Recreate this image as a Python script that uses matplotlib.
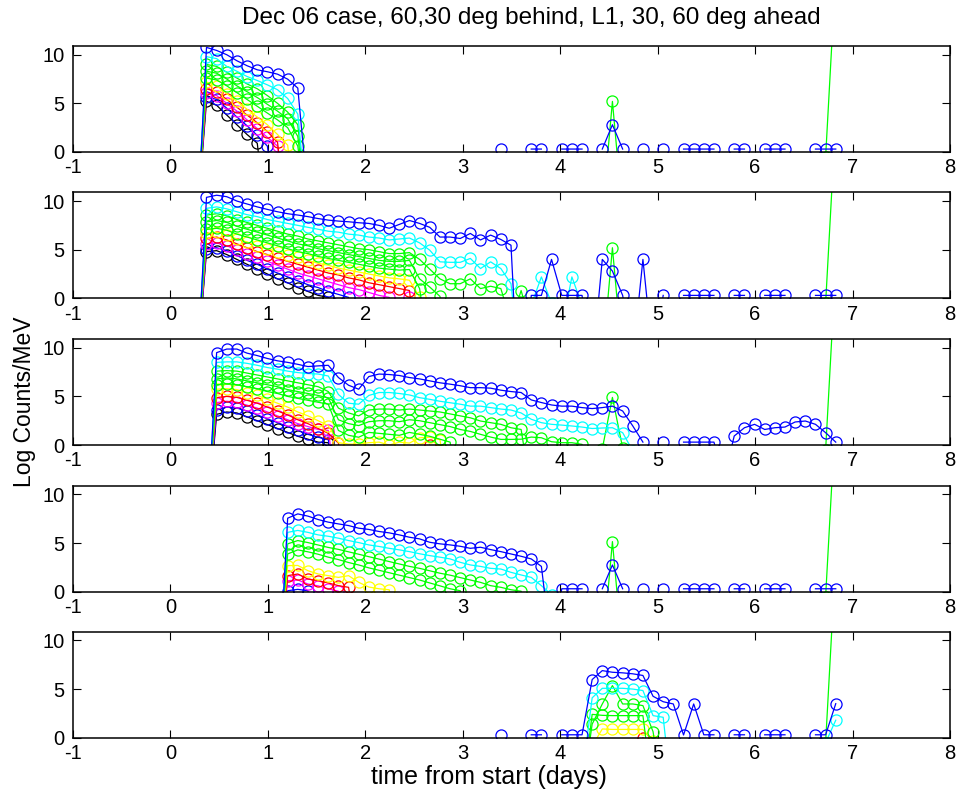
import numpy as np
import matplotlib
matplotlib.use("Agg")
import matplotlib.pyplot as plt

plt.rcParams['font.family'] = ['Liberation Sans', 'DejaVu Sans']
plt.rcParams['axes.unicode_minus'] = False

# sample times (days from start), 2.5 h cadence
time_days = [0.266, 0.370, 0.474, 0.578, 0.682, 0.786, 0.891, 0.995,
             1.099, 1.203, 1.307, 1.411, 1.516, 1.620, 1.724, 1.828,
             1.932, 2.036, 2.141, 2.245, 2.349, 2.453, 2.557, 2.661,
             2.766, 2.870, 2.974, 3.078, 3.182, 3.286, 3.391, 3.495,
             3.599, 3.703, 3.807, 3.911, 4.016, 4.120, 4.224, 4.328,
             4.432, 4.536, 4.641, 4.745, 4.849, 4.953, 5.057, 5.161,
             5.266, 5.370, 5.474, 5.578, 5.682, 5.786, 5.891, 5.995,
             6.099, 6.203, 6.307, 6.411, 6.516, 6.620, 6.724, 6.828]

# each channel: list of (first sample index, log counts) runs; gaps = no counts
# --- 60 deg behind ---
p1_blue = [(0, [-9.7, 10.75, 10.44, 10.0, 9.38, 8.87, 8.45, 8.25, 8.0, 7.49, 6.57, -4.6]),
           (30, [0.3]), (33, [0.3, 0.3]), (36, [0.3, 0.3, 0.3]),
           (40, [0.3, 2.8, 0.3]), (44, [0.3]), (46, [0.3]),
           (48, [0.3, 0.3, 0.3, 0.3]), (53, [0.3, 0.3]),
           (56, [0.3, 0.3, 0.3]), (61, [0.3, 0.3, 0.3])]
p1_cyan = [(0, [-8.5, 9.8, 9.6, 8.8, 8.3, 7.76, 7.35, 6.9, 6.4, 5.5, 3.9, -7.0])]
p1_green1 = [(0, [-8.0, 9.0, 8.8, 8.2, 7.6, 7.0, 6.5, 5.8, 5.0, 4.1, 2.8, -7.0]),
             (40, [-6.5, 5.2, -6.5]), (62, [-0.5, 18.5])]
p1_green2 = [(0, [-8.0, 8.3, 8.1, 7.5, 6.8, 6.2, 5.6, 4.9, 4.2, 3.4, 1.6, -7.0])]
p1_green3 = [(0, [-8.0, 7.6, 7.4, 6.8, 6.1, 5.4, 4.7, 4.0, 3.3, 2.5, 0.6, -7.0])]
p1_yellow = [(0, [-8.0, 7.2, 6.8, 6.0, 5.2, 4.4, 3.6, 2.8, 1.8, 0.7, -8.0])]
p1_red = [(0, [-8.0, 6.5, 6.2, 5.4, 4.6, 3.8, 3.0, 2.1, 1.0, -8.0])]
p1_magenta = [(0, [-8.0, 6.1, 5.8, 5.0, 4.2, 3.3, 2.4, 1.5, 0.6, -8.0])]
p1_blue2 = [(0, [-8.0, 5.7, 5.4, 4.5, 3.6, 2.7, 1.7, 0.6, -8.0])]
p1_black = [(0, [-8.0, 5.2, 4.8, 3.8, 2.8, 1.8, 0.9, -8.0])]

# --- 30 deg behind ---
p2_blue = [(0, [-9.5, 10.38, 10.6, 10.45, 10.0, 9.7, 9.4, 9.14, 8.9, 8.7, 8.56,
                8.4, 8.2, 8.04, 7.94, 7.87, 7.77, 7.7, 7.5, 7.2, 7.6,
                8.0, 7.7, 7.3, 6.3, 6.3, 6.15, 6.67, 6.0, 6.5, 6.05,
                5.46, -14.8, 0.3, 0.3, 4.0, 0.3, 0.3, 0.3, -7.2, 4.0,
                2.8, 0.3, -6.2, 4.0, -6.2, 0.3]),
           (48, [0.3, 0.3, 0.3, 0.3]), (53, [0.3, 0.3]),
           (56, [0.3, 0.3, 0.3]), (61, [0.3, 0.3, 0.3])]
p2_cyan = [(0, [-8.5, 9.25, 9.4, 9.2, 8.9, 8.6, 8.4, 8.1, 7.9, 7.7, 7.5,
                7.3, 7.1, 6.9, 6.8, 6.6, 6.5, 6.3, 6.2, 6.0, 6.1,
                6.2, 5.7, 4.95, 3.75, 3.7, 3.7, 4.1, 3.06, 3.75, 3.06,
                1.5, -8.0, -0.7, 2.2, -0.5, -3.1, 2.2, -0.7])]
p2_green1 = [(0, [-8.0, 8.56, 8.7, 8.5, 8.1, 7.8, 7.5, 7.2, 6.9, 6.6, 6.4,
                  6.1, 5.9, 5.7, 5.5, 5.3, 5.1, 5.0, 4.8, 4.6, 4.6,
                  4.7, 4.0, 3.0, 2.0, 1.5, 1.5, 2.0, 1.0, 1.24, 1.0,
                  -2.5, 0.8, -3.0]),
             (40, [-6.5, 5.2, -6.5]), (62, [-0.5, 18.5])]
p2_green2 = [(0, [-8.0, 7.87, 8.0, 7.8, 7.4, 7.1, 6.8, 6.5, 6.2, 5.9, 5.6,
                  5.4, 5.1, 4.9, 4.7, 4.5, 4.3, 4.1, 3.9, 3.8, 3.8,
                  3.9, 2.0, 1.16, 0.2, -6.0])]
p2_green3 = [(0, [-8.0, 7.08, 7.2, 7.0, 6.6, 6.3, 6.0, 5.7, 5.4, 5.1, 4.8,
                  4.6, 4.3, 4.1, 3.9, 3.7, 3.5, 3.3, 3.1, 3.0, 2.9,
                  2.96, 1.0, -6.0])]
p2_yellow = [(0, [-8.0, 6.67, 6.8, 6.5, 6.1, 5.8, 5.4, 5.1, 4.8, 4.5, 4.2,
                  3.9, 3.6, 3.4, 3.1, 2.9, 2.7, 2.5, 2.3, 2.1, 2.0,
                  1.86, 0.14, -8.0])]
p2_red = [(0, [-8.0, 6.15, 6.3, 6.0, 5.6, 5.2, 4.8, 4.5, 4.1, 3.8, 3.5,
               3.2, 2.9, 2.6, 2.4, 2.1, 1.9, 1.6, 1.4, 1.2, 1.0,
               0.8, -8.0])]
p2_magenta = [(0, [-8.0, 5.6, 5.7, 5.4, 5.0, 4.6, 4.2, 3.8, 3.4, 3.0, 2.6,
                   2.3, 2.0, 1.7, 1.4, 1.1, 0.9, 0.6, 0.3, 0.1, -3.0,
                   0.1, -8.0])]
p2_blue2 = [(0, [-8.0, 5.1, 5.2, 4.9, 4.4, 3.9, 3.5, 3.0, 2.6, 2.2, 1.8,
                 1.4, 1.1, 0.7, 0.4, 0.1, -8.0])]
p2_black = [(0, [-8.0, 4.8, 4.9, 4.5, 4.0, 3.5, 3.0, 2.5, 2.0, 1.6, 1.1,
                 0.7, 0.3, 0.1, -8.0])]

# --- L1 ---
p3_blue = [(1, [-10.0, 9.5, 9.87, 9.87, 9.45, 9.2, 8.9, 8.66, 8.5, 8.3,
                8.07, 8.14, 8.2, 6.94, 6.15, 5.74, 7.04, 7.3, 7.25, 7.15,
                6.94, 6.8, 6.6, 6.4, 6.26, 6.1, 5.9, 5.9, 5.85, 5.64,
                5.5, 5.4, 4.64, 4.37, 4.12, 4.0, 4.0, 3.85, 3.75, 3.85,
                4.0, 3.5, 1.96, 0.3]),
           (46, [0.3]),
           (48, [0.3, 0.3, 0.3, 0.3, -3.4, 0.93, 1.78, 2.13, 1.6, 1.78,
                 1.85, 2.37, 2.47, 2.13, 1.27, 0.3])]
p3_cyan = [(1, [-9.0, 8.5, 8.55, 8.55, 8.4, 8.2, 7.97, 7.8, 7.6, 7.45,
                7.35, 7.3, 7.1, 5.2, 4.3, 4.2, 5.1, 5.4, 5.4, 5.3,
                5.15, 4.87, 4.7, 4.5, 4.35, 4.2, 4.0, 4.0, 3.85, 3.7,
                3.6, 3.3, 2.65, 2.3, 2.13, 2.05, 1.96, 1.85, 1.7, 1.75,
                1.78, 1.27, -0.6])]
p3_green1 = [(1, [-9.0, 7.6, 7.65, 7.6, 7.4, 7.2, 7.0, 6.8, 6.6, 6.4,
                  6.2, 6.0, 5.5, 3.8, 3.3, 3.0, 3.6, 3.7, 3.7, 3.6,
                  3.7, 3.6, 3.5, 3.4, 3.2, 3.0, 2.8, 2.47, 2.3, 2.13,
                  1.78, 1.6, -5.0]),
             (40, [-0.4, 4.9, -0.3]), (62, [-0.5, 18.5])]
p3_green2 = [(1, [-9.0, 6.8, 6.9, 6.8, 6.6, 6.4, 6.2, 6.0, 5.7, 5.5,
                  5.3, 5.1, 4.85, 2.6, 2.2, 2.0, 2.4, 2.5, 2.5, 2.4,
                  2.6, 2.5, 2.3, 2.1, 1.9, 1.6, 1.4, 1.1, 0.82, 0.58,
                  0.58, 0.6, 0.82, 0.75, 0.34, 0.24, 0.24, 0.07, -6.0])]
p3_green3 = [(1, [-9.0, 6.2, 6.3, 6.2, 6.0, 5.8, 5.5, 5.3, 5.0, 4.8,
                  4.6, 4.4, 4.2, 1.5, 1.0, 0.8, 1.3, 1.2, 1.1, 1.0,
                  1.3, 1.1, 0.9, 0.6, 0.3, -6.0])]
p3_yellow = [(1, [-9.0, 5.74, 5.8, 5.7, 5.4, 5.1, 4.7, 4.3, 3.9, 3.4,
                  3.0, 2.5, 2.0, 0.24, 0.1, 0.1, 0.24, 0.3, 0.0, 0.3,
                  0.2, 0.75, 0.8, 0.55, -6.0])]
p3_red = [(1, [-9.0, 4.88, 5.0, 4.9, 4.6, 4.3, 3.9, 3.5, 3.1, 2.6,
               2.2, 1.7, 1.2, 0.2, -6.0]),
          (22, [-5.0, 0.0, -5.0])]
p3_magenta = [(1, [-9.0, 4.37, 4.5, 4.4, 4.1, 3.8, 3.4, 3.0, 2.6, 2.2,
                   1.9, 1.6, 1.5, -6.0])]
p3_blue2 = [(1, [-9.0, 3.6, 3.9, 3.8, 3.5, 3.1, 2.7, 2.3, 1.9, 1.5,
                 1.1, 0.8, 0.55, -6.0])]
p3_black = [(1, [-9.0, 3.16, 3.4, 3.3, 2.9, 2.5, 2.1, 1.7, 1.3, 0.9,
                 0.6, 0.3, 0.24, -6.0])]

# --- 30 deg ahead ---
p4_blue = [(8, [-12.0, 7.56, 8.0, 7.77, 7.42, 7.15, 6.97, 6.8, 6.53, 6.4,
                6.19, 6.05, 5.84, 5.6, 5.43, 5.08, 4.92, 4.81, 4.67, 4.46,
                4.57, 4.33, 4.12, 3.88, 3.64, 3.37, 2.6, -6.0, 0.3, 0.3,
                0.3]),
           (40, [0.3, 2.75, 0.3]), (44, [0.3]), (46, [0.3]),
           (48, [0.3, 0.3, 0.3, 0.3]), (53, [0.3, 0.3]),
           (56, [0.3, 0.3, 0.3]), (61, [0.3, 0.3, 0.3])]
p4_cyan = [(8, [-9.0, 6.1, 6.3, 6.1, 5.84, 5.7, 5.5, 5.26, 5.05, 4.81,
                4.65, 4.46, 4.3, 4.12, 3.9, 3.71, 3.55, 3.37, 3.02, 2.75,
                2.6, 2.4, 2.33, 1.99, 1.72, 1.47, 0.62, -0.3])]
p4_green1 = [(8, [-9.0, 4.92, 5.26, 5.05, 4.8, 4.55, 4.35, 4.1, 3.85, 3.6,
                  3.35, 3.1, 2.85, 2.6, 2.4, 2.15, 1.9, 1.7, 1.45, 1.2,
                  0.96, 0.62, 0.45, 0.2, 0.05, -6.0]),
             (40, [-6.5, 5.15, -6.5]), (62, [-0.5, 18.5])]
p4_green2 = [(8, [-9.0, 3.88, 4.3, 4.1, 3.85, 3.55, 3.3, 3.0, 2.75, 2.45,
                  2.2, 1.95, 1.7, 1.45, 1.2, 0.9, 0.6, 0.3, 0.1, -6.0])]
p4_yellow = [(8, [-9.0, 2.68, 2.7, 2.16, 1.82, 1.65, 1.47, 1.65, 0.96, 0.48,
                  0.3, 0.2, -6.0])]
p4_red = [(8, [-9.0, 1.65, 1.82, 1.3, 1.13, 0.9, 0.62, 0.45, -6.0])]
p4_magenta = [(8, [-9.0, 1.13, 1.2, 0.79, 0.6, 0.3, 0.05, -6.0])]
p4_blue2 = [(8, [-9.0, 0.1, 0.24, 0.1, -6.0])]

# --- 60 deg ahead ---
p5_blue = [(30, [0.3]), (33, [0.3, 0.3]),
           (36, [0.3, 0.3, 0.3, 5.98, 6.9, 6.73, 6.67, 6.57, 6.4, 4.26,
                 3.7, 3.47, 0.28, 3.47, 0.3, 0.3]),
           (53, [0.3, 0.3]), (56, [0.3, 0.3, 0.3]), (61, [0.3, 0.3, 3.5])]
p5_cyan = [(38, [-4.1, 4.1, 5.08, 5.08, 5.08, 5.0, 4.85, 2.27, 2.1, -7.4]),
           (62, [-0.5, 1.8])]
p5_green1 = [(38, [-6.0, 1.4, 3.47, 5.36, 3.47, 3.47, 3.3, 0.62, -6.0]),
             (62, [-0.5, 18.5])]
p5_green2 = [(38, [-6.0, 2.4, 2.3, 2.27, 2.27, 2.27, 2.27, -6.0])]
p5_yellow = [(39, [-0.86, 0.9, 0.85, 0.85, 0.85, 0.85, -0.3])]
p5_red = [(43, [-5.0, 0.0, -5.0])]

BLUE, CYAN, GREEN = '#0000ff', '#00ffff', '#00ff00'
YELLOW, RED, MAGENTA, BLACK = '#ffff00', '#ff0000', '#ff00ff', '#000000'

panels = [
    [(p1_black, BLACK), (p1_blue2, BLUE), (p1_magenta, MAGENTA), (p1_red, RED),
     (p1_yellow, YELLOW), (p1_green3, GREEN), (p1_green2, GREEN),
     (p1_green1, GREEN), (p1_cyan, CYAN), (p1_blue, BLUE)],
    [(p2_black, BLACK), (p2_blue2, BLUE), (p2_magenta, MAGENTA), (p2_red, RED),
     (p2_yellow, YELLOW), (p2_green3, GREEN), (p2_green2, GREEN),
     (p2_green1, GREEN), (p2_cyan, CYAN), (p2_blue, BLUE)],
    [(p3_black, BLACK), (p3_blue2, BLUE), (p3_magenta, MAGENTA), (p3_red, RED),
     (p3_yellow, YELLOW), (p3_green3, GREEN), (p3_green2, GREEN),
     (p3_green1, GREEN), (p3_cyan, CYAN), (p3_blue, BLUE)],
    [(p4_blue2, BLUE), (p4_magenta, MAGENTA), (p4_red, RED), (p4_yellow, YELLOW),
     (p4_green2, GREEN), (p4_green1, GREEN), (p4_cyan, CYAN), (p4_blue, BLUE)],
    [(p5_red, RED), (p5_yellow, YELLOW), (p5_green2, GREEN), (p5_green1, GREEN),
     (p5_cyan, CYAN), (p5_blue, BLUE)],
]


def expand(runs):
    # fill the sample grid; untouched samples stay NaN so the line breaks there
    y = np.full(len(time_days), np.nan)
    for start, vals in runs:
        y[start:start + len(vals)] = vals
    return y


fig = plt.figure(figsize=(9.58, 7.94), dpi=100)
bottoms = [0.8086, 0.6243, 0.4395, 0.2548, 0.0709]
t = np.array(time_days)

for bottom, channels in zip(bottoms, panels):
    ax = fig.add_axes([0.0762, bottom, 0.9154, 0.1335])
    for runs, color in channels:
        ax.plot(t, expand(runs), '-o', color=color, lw=0.9,
                marker='o', markersize=8, markerfacecolor='none',
                markeredgecolor=color, markeredgewidth=0.9)
    ax.set_xlim(-1, 8)
    ax.set_ylim(0, 10.9)
    ax.set_xticks(range(-1, 9))
    ax.set_yticks([0, 5, 10])
    ax.tick_params(direction='in', top=True, right=True, length=5.5,
                   width=0.8, labelsize=14.5)
    ax.tick_params(axis='x', pad=4.5)
    ax.tick_params(axis='y', pad=6)
    for s in ax.spines.values():
        s.set_linewidth(1.1)

fig.text(0.555, 0.977, 'Dec 06 case, 60,30 deg behind, L1, 30, 60 deg ahead',
         ha='center', va='center', fontsize=17.5)
fig.text(0.026, 0.494, 'Log Counts/MeV', rotation=90,
         ha='center', va='center', fontsize=16.5)
fig.text(0.5104, 0.021, 'time from start (days)', ha='center', va='center',
         fontsize=18)

fig.savefig('out.png', dpi=100)
